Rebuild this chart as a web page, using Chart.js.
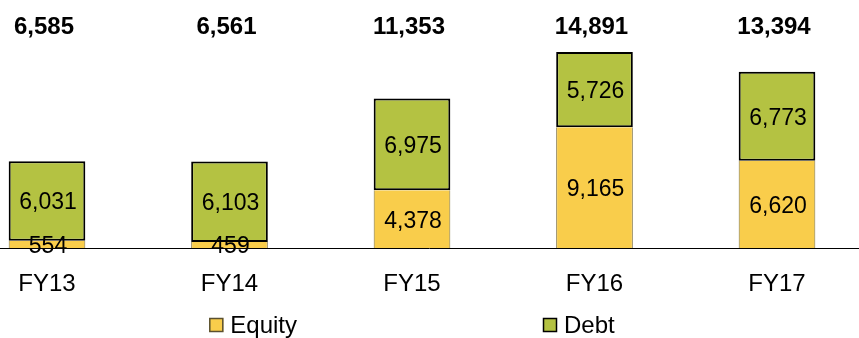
<!DOCTYPE html>
<html>
<head>
<meta charset="utf-8">
<script src="https://cdn.jsdelivr.net/npm/chart.js@4"></script>
<style>
  html, body { margin: 0; padding: 0; background: #fff; }
  #wrap { width: 859px; height: 338px; }
</style>
</head>
<body>
<div id="wrap"><canvas id="fundingChart"></canvas></div>
<script>
// Categorias e valores por ano fiscal
const years = ['FY13', 'FY14', 'FY15', 'FY16', 'FY17'];
const equity = [554, 459, 4378, 9165, 6620];
const debt = [6031, 6103, 6975, 5726, 6773];
const totals = [6585, 6561, 11353, 14891, 13394];

const fontFamily = "'Liberation Sans', Arial, sans-serif";
const fmt = v => v.toLocaleString('en-US');

// Rótulos dentro das barras, totais no topo, linha de base e legenda
const annotate = {
    id: 'annotate',
    afterDatasetsDraw(chart) {
        const ctx = chart.ctx;
        const area = chart.chartArea;
        const xScale = chart.scales.x;
        ctx.save();

        // valores de cada segmento
        ctx.font = '23px ' + fontFamily;
        ctx.fillStyle = '#000';
        ctx.textAlign = 'center';
        ctx.textBaseline = 'middle';
        chart.data.datasets.forEach((ds, i) => {
            chart.getDatasetMeta(i).data.forEach((bar, j) => {
                ctx.fillText(fmt(ds.data[j]), bar.x + 1, (bar.y + bar.base) / 2 + 2);
            });
        });

        // linha de base em toda a largura
        ctx.strokeStyle = '#000';
        ctx.lineWidth = 1;
        ctx.beginPath();
        ctx.moveTo(0, area.bottom + 0.5);
        ctx.lineTo(chart.width, area.bottom + 0.5);
        ctx.stroke();

        // totais em negrito
        ctx.font = 'bold 24px ' + fontFamily;
        totals.forEach((t, j) => {
            ctx.fillText(fmt(t), xScale.getPixelForValue(j) - 3, area.top + 16);
        });

        // legenda
        ctx.font = '24px ' + fontFamily;
        ctx.textAlign = 'left';
        const box = 14, gapText = 7, gapItems = 246;
        const items = chart.data.datasets.map(ds => ({
            label: ds.label, fill: ds.backgroundColor, stroke: ds.legendBorder,
            w: box + gapText + ctx.measureText(ds.label).width
        }));
        const total = items.reduce((s, it) => s + it.w, 0) + gapItems * (items.length - 1);
        let x = (area.left + area.right) / 2 - total / 2;
        const y = 325;
        items.forEach(it => {
            ctx.fillStyle = it.fill;
            ctx.fillRect(x, y - box / 2, box, box);
            ctx.strokeStyle = it.stroke;
            ctx.lineWidth = 1.5;
            ctx.strokeRect(x + 0.5, y - box / 2 + 0.5, box - 1, box - 1);
            ctx.fillStyle = '#000';
            ctx.fillText(it.label, x + box + gapText, y + 1);
            x += it.w + gapItems;
        });
        ctx.restore();
    }
};

new Chart(document.getElementById('fundingChart'), {
    type: 'bar',
    data: {
        labels: years,
        datasets: [{
            label: 'Equity',
            data: equity,
            backgroundColor: '#F9CD4B',
            borderColor: '#7d6e3a',
            legendBorder: '#5a5030',
            borderWidth: { left: 1, right: 1, top: 0, bottom: 0 },
            borderSkipped: false,
            clip: false
        }, {
            label: 'Debt',
            data: debt,
            backgroundColor: '#B4C242',
            borderColor: '#000',
            legendBorder: '#000',
            borderWidth: 2,
            borderSkipped: false,
            clip: false
        }]
    },
    options: {
        responsive: true,
        maintainAspectRatio: false,
        animation: false,
        devicePixelRatio: 1,
        layout: { padding: { left: 47, right: 82, top: 11, bottom: 30 } },
        plugins: {
            legend: { display: false },
            tooltip: { enabled: false }
        },
        datasets: {
            bar: { barPercentage: 0.42, categoryPercentage: 1 }
        },
        scales: {
            x: {
                stacked: true,
                offset: false,
                grid: { display: false, drawTicks: false },
                border: { display: false },
                ticks: {
                    color: '#000',
                    padding: 22,
                    maxRotation: 0,
                    font: { family: fontFamily, size: 24 }
                },
                afterFit(scale) {
                    scale.height = 60;
                    scale.paddingLeft = 0;
                    scale.paddingRight = 0;
                }
            },
            y: {
                stacked: true,
                display: false,
                min: 0,
                max: 18000
            }
        }
    },
    plugins: [annotate]
});
</script>
</body>
</html>
